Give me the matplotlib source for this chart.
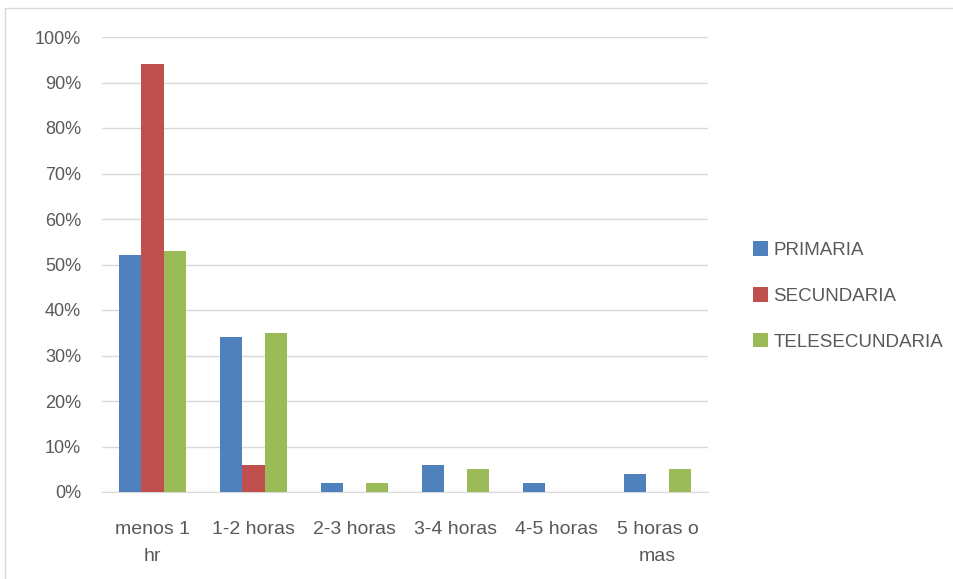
import matplotlib
matplotlib.use("Agg")
import matplotlib.pyplot as plt
from matplotlib.patches import Rectangle
import numpy as np

categories = ["menos 1\nhr", "1-2 horas", "2-3 horas", "3-4 horas", "4-5 horas", "5 horas o\nmas"]
series_names = ["PRIMARIA", "SECUNDARIA", "TELESECUNDARIA"]
primaria = [52, 34, 2, 6, 2, 4]
secundaria = [94, 6, 0, 0, 0, 0]
telesecundaria = [53, 35, 2, 5, 0, 5]
yticks = [0, 10, 20, 30, 40, 50, 60, 70, 80, 90, 100]

colors = ["#4F81BD", "#C0504D", "#9BBB59"]
text_color = "#595959"
plt.rcParams["font.family"] = ["Liberation Sans", "DejaVu Sans"]

fig = plt.figure(figsize=(9.54, 5.79), dpi=100)
ax = fig.add_axes([102 / 954, 1 - 492 / 579, 606 / 954, 455 / 579])

# chart frame
fig.patches.append(Rectangle((5 / 954, -0.01), 1.0, 1 - 8 / 579 + 0.01,
                             transform=fig.transFigure, fill=False,
                             edgecolor="#D9D9D9", linewidth=1.0))

x = np.arange(len(categories))
w = 0.222
for i, (vals, name) in enumerate(zip([primaria, secundaria, telesecundaria], series_names)):
    ax.bar(x + (i - 1) * w, vals, width=w, color=colors[i], label=name, zorder=3)

ax.set_xlim(-0.5, len(categories) - 0.5)
ax.set_ylim(0, 100)
ax.set_yticks(yticks)
ax.set_yticklabels([f"{t}%" for t in yticks])
ax.set_xticks(x)
ax.set_xticklabels(categories)
ax.yaxis.grid(True, color="#D9D9D9", linewidth=1.0, zorder=0)
for s in ["top", "right", "left"]:
    ax.spines[s].set_visible(False)
ax.spines["bottom"].set_color("#D9D9D9")
ax.tick_params(axis="y", length=0, colors=text_color, labelsize=13, pad=15)
ax.tick_params(axis="x", length=0, colors=text_color, labelsize=14, pad=21)
for lbl in ax.get_xticklabels():
    lbl.set_linespacing(1.75)

leg = fig.legend(loc="center left", bbox_to_anchor=(736 / 954, 1 - 296 / 579),
                 frameon=False, fontsize=13.5, handlelength=0.8, handleheight=0.8,
                 handletextpad=0.3, labelspacing=1.5, labelcolor=text_color)

fig.savefig("out.png", dpi=100)
